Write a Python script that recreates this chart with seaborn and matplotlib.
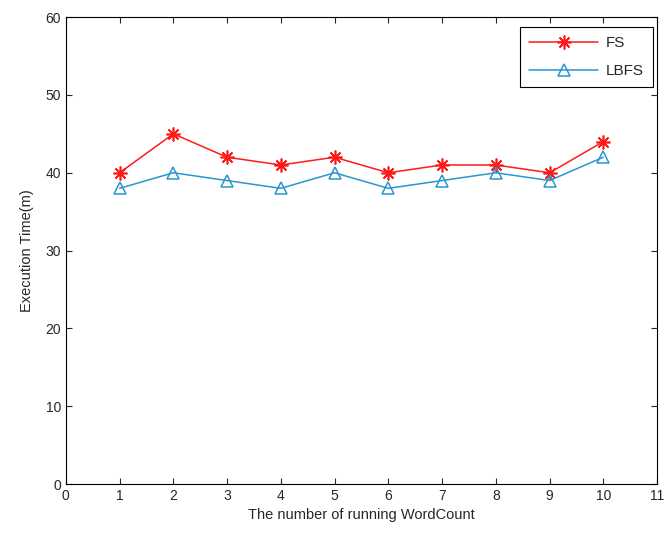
import matplotlib
matplotlib.use("Agg")
import matplotlib.pyplot as plt
import seaborn as sns
import pandas as pd

runs = [1, 2, 3, 4, 5, 6, 7, 8, 9, 10]
fs = [40, 45, 42, 41, 42, 40, 41, 41, 40, 44]
lbfs = [38, 40, 39, 38, 40, 38, 39, 40, 39, 42]
xticks = list(range(0, 12))
yticks = [0, 10, 20, 30, 40, 50, 60]

sns.set_style("white")
plt.rcParams['font.family'] = ['Liberation Sans', 'DejaVu Sans']

df = pd.DataFrame({"run": runs + runs,
                   "time": fs + lbfs,
                   "series": ["FS"] * len(runs) + ["LBFS"] * len(runs)})

fig = plt.figure(figsize=(6.65, 5.36), dpi=100)
ax = fig.add_axes([0.099, 0.097, 0.889, 0.871])

red = "#ff1a1a"
blue = "#2a95d0"
sns.lineplot(data=df[df.series == "FS"], x="run", y="time", ax=ax, color=red,
             marker=(8, 2, 0), markersize=10, markeredgecolor=red, markerfacecolor=red,
             markeredgewidth=1.2, linewidth=1.1, label="FS")
sns.lineplot(data=df[df.series == "LBFS"], x="run", y="time", ax=ax, color=blue,
             marker="^", markersize=8, markeredgecolor=blue, markerfacecolor="none",
             markeredgewidth=1.1, linewidth=1.1, label="LBFS")

ax.set_xlim(0, 11)
ax.set_ylim(0, 60)
ax.set_xticks(xticks)
ax.set_yticks(yticks)
ax.tick_params(direction="in", length=4, labelsize=10, top=True, right=True,
               bottom=True, left=True, width=0.8)
for s in ax.spines.values():
    s.set_color("black")
    s.set_linewidth(0.8)
ax.set_xlabel("The number of running WordCount", fontsize=10.5)
ax.set_ylabel("Execution Time(m)", fontsize=10.5, labelpad=8)
leg = ax.legend(loc="upper right", bbox_to_anchor=(0.993, 0.979), borderaxespad=0,
                fontsize=11, fancybox=False, framealpha=1, edgecolor="black",
                handlelength=4.5, labelspacing=0.9, borderpad=0.6, handletextpad=0.5)
leg.get_frame().set_linewidth(0.8)

fig.savefig("out.png", dpi=100)
